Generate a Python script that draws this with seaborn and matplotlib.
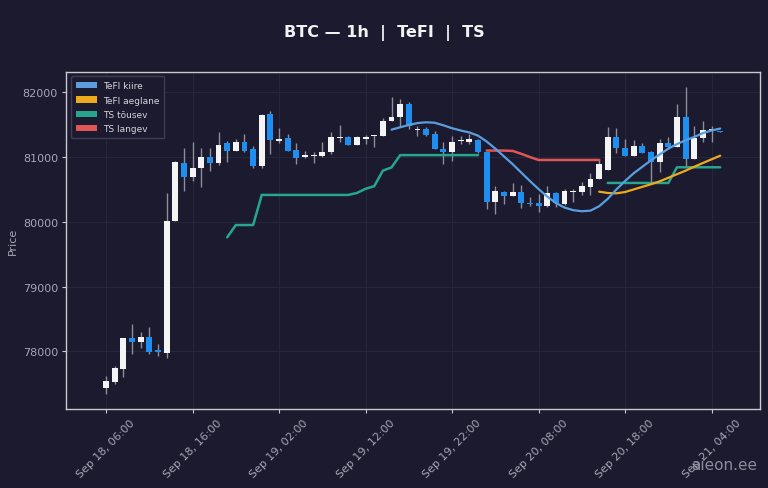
import numpy as np
import pandas as pd
import matplotlib
matplotlib.use("Agg")
import matplotlib.pyplot as plt
from matplotlib.patches import Patch
import seaborn as sns

# ---------------- data ----------------
start_time = "2025-09-18 06:00"
opens = [77430, 77520, 77730, 78200, 78150, 78225, 78020, 77975, 80010, 80910,
         80690, 80830, 81005, 80910, 81210, 81100, 81228, 81125, 80867, 81660,
         81255, 81290, 81110, 80995, 81015, 81015, 81075, 81300, 81305, 81190,
         81280, 81320, 81330, 81555, 81615, 81820, 81425, 81435, 81355, 81130,
         81075, 81250, 81230, 81270, 81075, 80310, 80465, 80405, 80465, 80290,
         80290, 80240, 80445, 80275, 80465, 80465, 80535, 80660, 80805, 81305,
         81135, 81020, 81165, 81075, 80925, 81215, 81150, 81615, 80970, 81290,
         81420, 81400]
highs = [77615, 77780, 78210, 78420, 78305, 78370, 78115, 80445, 80945, 81135,
         81237, 81135, 81135, 81380, 81255, 81280, 81355, 81175, 81660, 81715,
         81445, 81355, 81215, 81090, 81083, 81237, 81380, 81500, 81330, 81330,
         81340, 81340, 81600, 81920, 81895, 81845, 81485, 81460, 81400, 81230,
         81330, 81330, 81355, 81280, 81080, 80560, 80480, 80600, 80570, 80380,
         80430, 80550, 80460, 80500, 80510, 80610, 80750, 80970, 81460, 81445,
         81280, 81265, 81215, 81100, 81280, 81305, 81820, 82075, 81485, 81560,
         81485, 81405]
lows = [77342, 77495, 77600, 77960, 78047, 77960, 77925, 77900, 80005, 80480,
        80625, 80540, 80790, 80880, 80930, 81090, 81075, 80830, 80830, 81045,
        81215, 81090, 80895, 80990, 80904, 81005, 81045, 81228, 81188, 81185,
        81195, 81160, 81325, 81550, 81485, 81435, 81330, 81330, 81120, 80895,
        80945, 81200, 81200, 81070, 80200, 80120, 80275, 80400, 80210, 80250,
        80155, 80230, 80225, 80260, 80310, 80415, 80415, 80655, 80800, 81065,
        81015, 81015, 81060, 80610, 80775, 81125, 81150, 80855, 80965, 81230,
        81230, 81380]
closes = [77538, 77740, 78200, 78150, 78227, 77985, 77985, 80018, 80930, 80690,
          80830, 81005, 80905, 81190, 81100, 81228, 81098, 80867, 81655, 81270,
          81280, 81100, 80985, 81030, 81030, 81075, 81305, 81310, 81190, 81305,
          81305, 81330, 81560, 81615, 81820, 81485, 81440, 81340, 81125, 81075,
          81237, 81260, 81280, 81075, 80300, 80480, 80405, 80465, 80290, 80275,
          80240, 80445, 80290, 80480, 80480, 80550, 80660, 80895, 81305, 81135,
          81020, 81165, 81065, 80920, 81215, 81150, 81615, 80970, 81290, 81425,
          81425, 81385]

nan = np.nan
tefi_fast = [nan] * 33 + [81423, 81460, 81495, 81525, 81537, 81530, 81490, 81445,
                          81410, 81380, 81330, 81240, 81130, 81010, 80890, 80760,
                          80630, 80505, 80390, 80290, 80220, 80180, 80163, 80172,
                          80240, 80355, 80500, 80630, 80750, 80850, 80950, 81040,
                          81130, 81200, 81260, 81310, 81370, 81410, 81440]
tefi_slow = [nan] * 57 + [80465, 80445, 80440, 80460, 80500, 80540, 80580, 80625,
                          80680, 80735, 80790, 80850, 80908, 80965, 81021]
ts_up = ([nan] * 14 + [79760, 79950, 79950, 79950] + [80415] * 11 +
         [80445, 80510, 80550, 80790, 80840] + [81030] * 10 +
         [nan] * 14 + [80600] * 8 + [80842] * 6)
ts_down = [nan] * 44 + [81100, 81100, 81100, 81095, 81050, 81000] + [80955] * 8 + [nan] * 14

tick_labels = ["Sep 18, 06:00", "Sep 18, 16:00", "Sep 19, 02:00", "Sep 19, 12:00",
               "Sep 19, 22:00", "Sep 20, 08:00", "Sep 20, 18:00", "Sep 21, 04:00"]
y_ticks = [78000, 79000, 80000, 81000, 82000]
legend_labels = ["TeFI kiire", "TeFI aeglane", "TS tõusev", "TS langev"]

# ---------------- style ----------------
BG = "#1b1a2e"
GRID = "#25253b"
SPINE = "#c9c9d2"
TXT = "#a6a6b6"
UP = "#f4f4f4"
DOWN = "#1e8ef0"
WICK = "#8e8e9a"
C_FAST = "#5b9ee0"
C_SLOW = "#efaa1c"
C_UP = "#26a68f"
C_DOWN = "#e05656"

sns.set_theme(style="dark", rc={
    "axes.facecolor": BG, "figure.facecolor": BG,
    "axes.edgecolor": SPINE, "grid.color": GRID,
    "axes.grid": True, "text.color": TXT,
    "xtick.color": TXT, "ytick.color": TXT,
    "axes.labelcolor": TXT,
})
plt.rcParams["font.family"] = ["DejaVu Sans"]

times = pd.date_range(start_time, periods=len(opens), freq="h")
tick_times = pd.date_range(start_time, periods=len(tick_labels), freq="10h")

fig = plt.figure(figsize=(7.68, 4.89), dpi=100, facecolor=BG)
ax = fig.add_axes([0.0863, 0.1616, 0.9033, 0.6897])
ax.set_facecolor(BG)

o = np.array(opens, float); c = np.array(closes, float)
h = np.array(highs, float); l = np.array(lows, float)
colors = [UP if cc >= oo else DOWN for oo, cc in zip(o, c)]
bottom = np.minimum(o, c)
height = np.maximum(np.abs(c - o), 14)

ax.vlines(times, l, h, color=WICK, linewidth=1.0, zorder=2)
ax.bar(times, height, bottom=bottom, width=0.68 / 24, color=colors,
       edgecolor="none", zorder=3)


def segments(vals):
    vals = np.array(vals, float)
    segs, cur = [], []
    for i, v in enumerate(vals):
        if np.isnan(v):
            if cur:
                segs.append(cur); cur = []
        else:
            cur.append(i)
    if cur:
        segs.append(cur)
    return vals, segs


for series, col, lw in [(ts_up, C_UP, 1.8), (ts_down, C_DOWN, 1.8),
                        (tefi_slow, C_SLOW, 1.6), (tefi_fast, C_FAST, 1.6)]:
    vals, segs = segments(series)
    for seg in segs:
        df = pd.DataFrame({"time": times[seg], "value": vals[seg]})
        sns.lineplot(data=df, x="time", y="value", ax=ax, color=col,
                     linewidth=lw, zorder=4)

# axes limits / ticks
ax.set_xlim(times[0] - pd.Timedelta(hours=4.6), times[0] + pd.Timedelta(hours=75.6))
ax.set_ylim(77109, 82318)
ax.set_xticks(tick_times)
ax.set_xticklabels(tick_labels, rotation=45, fontsize=8, color=TXT)
ax.set_yticks(y_ticks)
ax.set_yticklabels([str(v) for v in y_ticks], fontsize=8, color=TXT)
ax.tick_params(axis="both", length=3, width=0.8, color=SPINE, pad=3)
ax.tick_params(axis="both", which="both", bottom=True, left=True)
ax.set_xlabel("")
ax.set_ylabel("Price", fontsize=8, color=TXT, labelpad=3.5)
ax.grid(True, color=GRID, linewidth=0.8)
for sp in ax.spines.values():
    sp.set_color(SPINE)
    sp.set_linewidth(1.0)

handles = [Patch(facecolor=col, edgecolor="none") for col in (C_FAST, C_SLOW, C_UP, C_DOWN)]
leg = ax.legend(handles, legend_labels, loc="upper left", fontsize=6.5,
                facecolor=BG, edgecolor="#3d3d55", framealpha=1.0,
                handlelength=2.3, handleheight=0.7, borderpad=0.55,
                labelspacing=0.6, handletextpad=0.7)
for t in leg.get_texts():
    t.set_color("#d4d4dc")

fig.text(0.5, 1 - 33 / 489, "BTC — 1h  |  TeFI  |  TS", ha="center", va="center",
         fontsize=11.5, fontweight="bold", color="#f2f2f2")
fig.text(757 / 768, 1 - 466 / 489, "aieon.ee", ha="right", va="center",
         fontsize=11, color="#8c8c9c")

fig.savefig("out.png", dpi=100, facecolor=BG)
